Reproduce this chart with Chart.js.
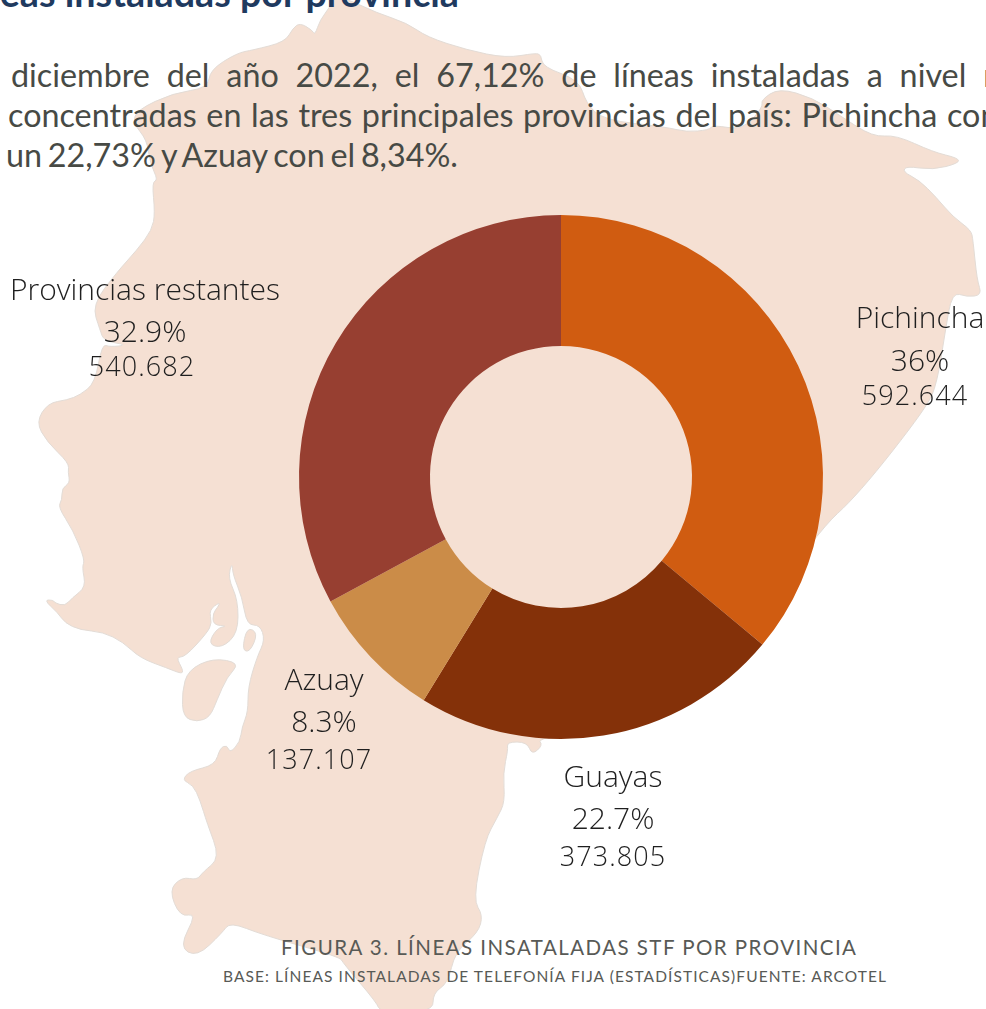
<!DOCTYPE html>
<html lang="es">
<head>
<meta charset="utf-8">
<title>Líneas instaladas por provincia</title>
<script src="https://cdn.jsdelivr.net/npm/chart.js@4"></script>
<style>
html,body{margin:0;padding:0;background:#fff;width:986px;height:1009px;overflow:hidden}
#page{position:relative;width:986px;height:1009px;overflow:hidden}
#map{position:absolute;left:0;top:0}
#chart{position:absolute;left:0;top:0}
.t{position:absolute;white-space:nowrap;font-family:Lato,sans-serif}
#heading{right:527px;top:-27px;font-weight:700;font-size:37.7px;line-height:40px;color:#1f3a5f}
.body{font-size:32.3px;line-height:40px;color:#474a45}
#l1{left:11px;top:55px;word-spacing:8.6px}
#l2{left:8px;top:95px;word-spacing:1.4px}
#l3{left:6px;top:135px;word-spacing:-2.5px}
#cap1{left:281px;top:935px;font-size:20.5px;line-height:24px;letter-spacing:1.45px;color:#585a56}
#cap2{left:223px;top:966px;font-size:15.5px;line-height:20px;letter-spacing:1.08px;color:#585a56}
</style>
</head>
<body>
<div id="page">
<svg id="map" width="986" height="1009" viewBox="0 0 986 1009">
<path class="land" fill="#f5e0d3" stroke="#e3dcd6" stroke-width="1" stroke-linejoin="round" d="M137 250 L117 272 L92 305 L100 330 L104 341 L128 345 L110 347 L102 344 L95 383 L80 395 L67 400 L48 403 L36 422 L47 442 L69 463 L68 472 L70 483 L62 488 L62 500 L58 507 L73 530 L85 560 L82 567 L86 587 L72 598 L65 606 L55 603 L53 600 L44 600 L58 613 L65 623 L80 630 L103 632 L123 642 L140 658 L167 668 L182 674 L183 670 L176 657 L185 657 L207 633 L212 623 L209 610 L220 602 L218 607 L213 613 L213 625 L228 626 L217 628 L208 644 L222 648 L238 633 L238 600 L228 578 L232 562 L233 575 L242 597 L247 625 L260 625 L265 640 L257 657 L248 687 L248 712 L242 727 L240 742 L230 753 L227 745 L220 748 L215 765 L190 771 L182 780 L193 785 L200 800 L207 823 L220 858 L203 872 L197 880 L182 877 L169 890 L180 917 L197 913 L179 947 L197 957 L222 933 L230 922 L263 935 L340 957 L343 963 L377 1003 L380 1012 L433 1012 L433 993 L448 983 L455 952 L478 933 L483 915 L473 900 L485 840 L497 818 L505 802 L503 773 L508 750 L507 742 L527 742 L532 755 L543 745 L537 738 L700 700 L817 532 L858 495 L927 407 L937 383 L945 333 L952 292 L967 297 L982 295 L977 280 L973 240 L971 230 L953 217 L936 197 L919 180 L903 172 L906 166 L933 170 L959 163 L958 158 L933 152 L896 135 L873 137 L839 115 L813 98 L779 88 L761 100 L763 107 L743 130 L713 125 L709 130 L686 132 L666 127 L603 120 L586 103 L579 80 L543 67 L541 55 L536 53 L506 58 L467 50 L427 37 L407 23 L377 13 L345 -2 L333 -2 L330 7 L320 20 L315 35 L312 30 L300 23 L293 28 L285 42 L253 50 L237 53 L210 70 L208 88 L173 93 L137 110 L133 123 L147 140 L150 163 L158 180 L152 182 L155 213 L152 230 Z"/>
<path class="land" fill="#f5e0d3" stroke="#e3dcd6" stroke-width="1" stroke-linejoin="round" d="M188 670 L213 658 L240 663 L227 677 L217 700 L210 717 L197 722 L183 717 L182 692 Z"/>
<path class="land" fill="#f5e0d3" stroke="#e3dcd6" stroke-width="1" stroke-linejoin="round" d="M247 627 L258 633 L250 652 L242 650 Z"/>
</svg>
<div class="t" id="heading">Líneas instaladas por provincia</div>
<div class="t body" id="l1">diciembre del año 2022, el 67,12% de líneas instaladas a nivel nacional</div>
<div class="t body" id="l2">concentradas en las tres principales provincias del país: Pichincha con</div>
<div class="t body" id="l3">un 22,73% y Azuay con el 8,34%.</div>
<div class="t" id="cap1">FIGURA 3. LÍNEAS INSATALADAS STF POR PROVINCIA</div>
<div class="t" id="cap2">BASE: LÍNEAS INSTALADAS DE TELEFONÍA FIJA (ESTADÍSTICAS)FUENTE: ARCOTEL</div>
<canvas id="chart" width="986" height="1009"></canvas>
</div>
<script>
const categories = ['Pichincha', 'Guayas', 'Azuay', 'Provincias restantes'];
const lineCounts = [592644, 373805, 137107, 540682];
const percentLabels = ['36%', '22.7%', '8.3%', '32.9%'];
const countLabels = ['592.644', '373.805', '137.107', '540.682'];
const sliceColors = ['#d05c11', '#843109', '#cb8c48', '#973f31'];

// Callout placement: name x, name y, percent y, count x, count y
const labelAnchors = [
  [920, 328, 371, 915, 405],
  [613, 787, 829, 613, 866],
  [324, 690, 732, 319, 769],
  [145, 300, 342, 142, 376]
];

// Rounds the traced coast outline so it reads as a hand-drawn silhouette.
document.querySelectorAll('.land').forEach(path => {
  const pts = path.getAttribute('d').match(/-?\d+(\.\d+)? -?\d+(\.\d+)?/g)
    .map(p => p.split(' ').map(Number));
  const mid = (a, b) => [(a[0] + b[0]) / 2, (a[1] + b[1]) / 2];
  const start = mid(pts[pts.length - 1], pts[0]);
  let d = `M${start[0]} ${start[1]}`;
  pts.forEach((p, i) => {
    const m = mid(p, pts[(i + 1) % pts.length]);
    d += ` Q${p[0]} ${p[1]} ${m[0]} ${m[1]}`;
  });
  path.setAttribute('d', d + ' Z');
});

const calloutPlugin = {
  id: 'callouts',
  afterDatasetsDraw(chart) {
    const ctx = chart.ctx;
    ctx.save();
    ctx.fillStyle = '#1f1f1f';
    ctx.textAlign = 'center';
    ctx.textBaseline = 'alphabetic';
    categories.forEach((name, i) => {
      const [nx, ny, py, cx, cy] = labelAnchors[i];
      ctx.letterSpacing = '0px';
      ctx.font = '300 30px "Open Sans"';
      ctx.fillText(name, nx, ny);
      ctx.fillText(percentLabels[i], nx, py);
      ctx.letterSpacing = '1.1px';
      ctx.font = '300 27px "Open Sans"';
      ctx.fillText(countLabels[i], cx, cy);
    });
    ctx.restore();
  }
};

new Chart(document.getElementById('chart'), {
  type: 'doughnut',
  data: {
    labels: categories,
    datasets: [{
      data: lineCounts,
      backgroundColor: sliceColors,
      borderWidth: 0
    }]
  },
  options: {
    responsive: false,
    animation: false,
    cutout: '50%',
    layout: { padding: { left: 299, right: 163, top: 215, bottom: 270 } },
    plugins: { legend: { display: false }, tooltip: { enabled: false } }
  },
  plugins: [calloutPlugin]
});
</script>
</body>
</html>
